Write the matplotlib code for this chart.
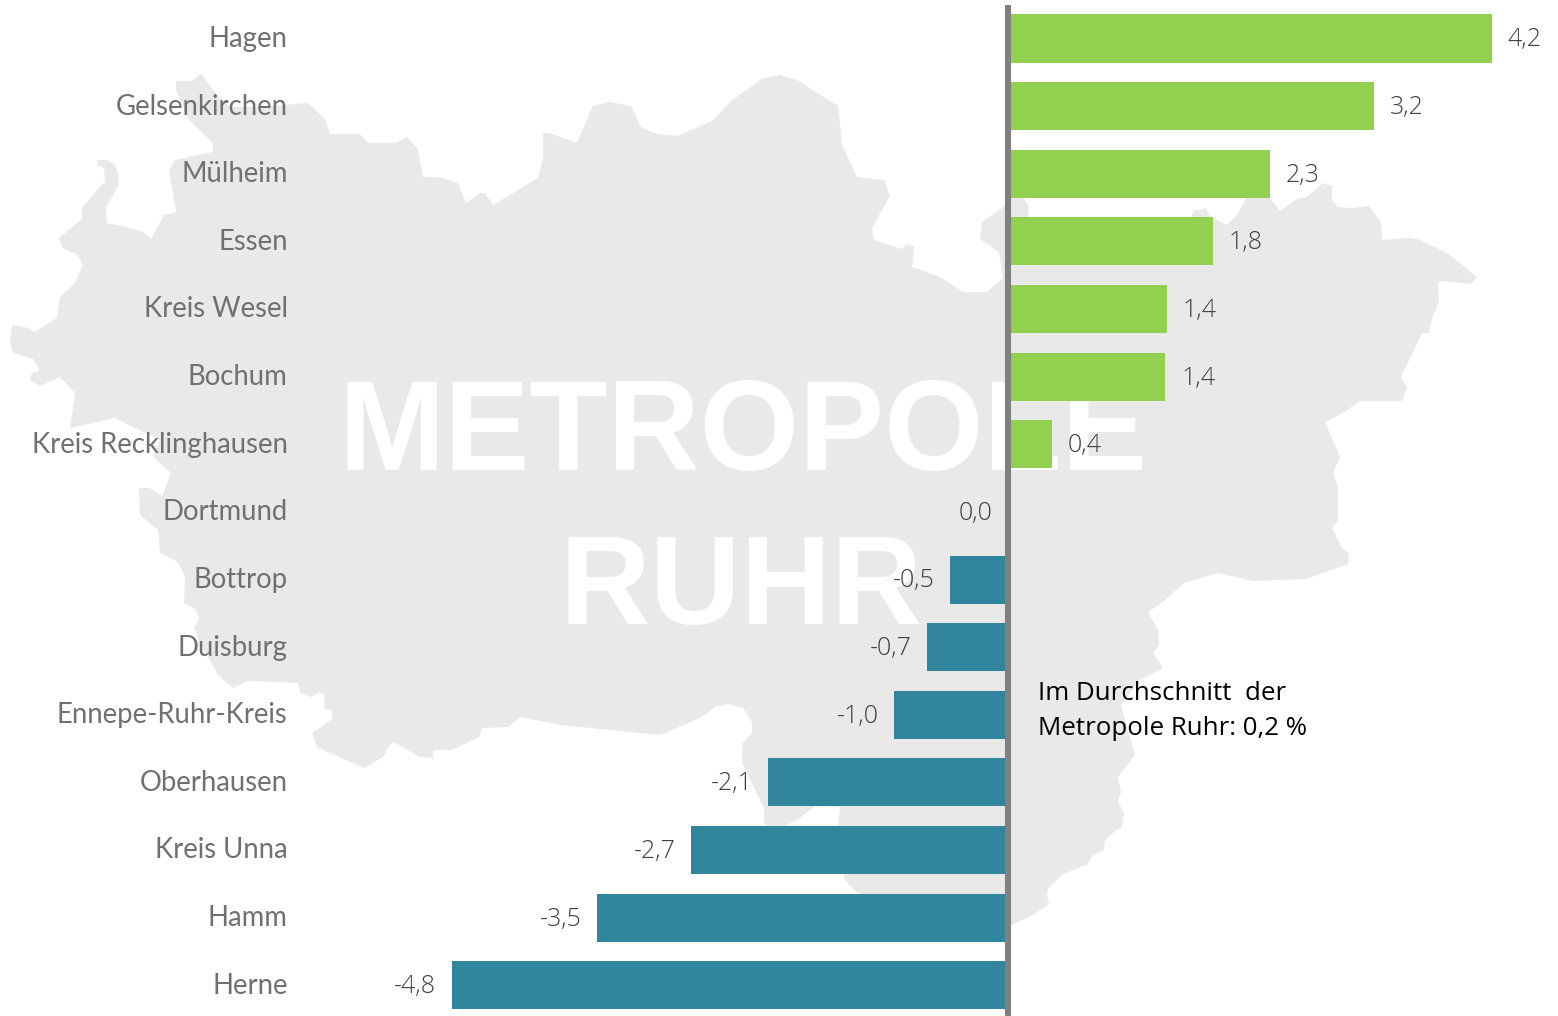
import matplotlib
matplotlib.use("Agg")
import matplotlib.pyplot as plt
from matplotlib.patches import Polygon
from matplotlib.transforms import ScaledTranslation

categories = ["Hagen", "Gelsenkirchen", "Mülheim", "Essen", "Kreis Wesel", "Bochum",
              "Kreis Recklinghausen", "Dortmund", "Bottrop", "Duisburg", "Ennepe-Ruhr-Kreis",
              "Oberhausen", "Kreis Unna", "Hamm", "Herne"]
values = [4.2, 3.18, 2.27, 1.78, 1.38, 1.365, 0.38, 0.0, -0.5, -0.7, -0.99, -2.08, -2.75, -3.57, -4.83]
value_labels = ["4,2", "3,2", "2,3", "1,8", "1,4", "1,4", "0,4", "0,0", "-0,5", "-0,7", "-1,0",
                "-2,1", "-2,7", "-3,5", "-4,8"]

# Decorative backdrop outline (pixel coordinates of the figure)
map_outline = [(10,343),(12,325),(28,328),(34,332),(57,318),(60,297),(75,283),(83,265),(78,255),(63,248),(59,238),
 (82,219),(82,208),(97,190),(105,182),(104,168),(97,165),(97,160),(107,160),(115,165),(119,177),(118,186),(106,208),
 (107,223),(127,227),(145,233),(151,239),(164,215),(176,212),(169,170),(175,160),(213,152),(213,143),(189,120),
 (176,90),(176,81),(192,81),(201,74),(217,95),(230,107),(257,107),(308,103),(325,119),(330,134),(360,134),(368,143),
 (396,143),(407,137),(418,149),(423,177),(438,177),(458,183),(466,203),(480,193),(485,193),(493,205),(538,178),
 (543,157),(543,133),(549,133),(577,143),(593,106),(609,102),(631,106),(641,127),(657,134),(677,136),(712,121),
 (731,101),(763,78),(780,75),(797,80),(838,106),(842,145),(857,177),(884,180),(890,196),(872,228),(874,240),(902,249),
 (907,244),(914,247),(912,267),(940,277),(963,292),(987,292),(1003,278),(999,252),(980,239),(982,222),(1005,206),
 (1012,197),(1023,197),(1029,206),(1028,217),(1192,217),(1193,211),(1206,208),(1210,217),(1227,225),(1237,215),
 (1247,197),(1269,197),(1280,211),(1297,199),(1307,197),(1323,183),(1332,186),(1332,200),(1338,207),(1352,208),
 (1369,206),(1381,222),(1382,240),(1407,238),(1418,239),(1447,253),(1465,267),(1477,278),(1470,284),(1443,281),
 (1438,283),(1439,302),(1432,318),(1429,333),(1422,333),(1401,377),(1407,388),(1402,401),(1360,401),(1343,413),
 (1325,422),(1340,457),(1333,473),(1338,487),(1338,520),(1332,528),(1342,548),(1349,553),(1348,564),(1306,579),
 (1253,581),(1218,573),(1184,583),(1163,602),(1148,612),(1158,630),(1159,645),(1153,653),(1163,668),(1140,680),
 (1121,705),(1135,755),(1118,777),(1121,792),(1118,802),(1124,813),(1122,827),(1115,831),(1105,840),(1104,850),
 (1092,856),(1088,864),(1062,875),(1048,888),(1047,895),(1049,904),(1033,915),(1012,925),(1005,927),(950,915),
 (857,893),(844,879),(842,850),(838,826),(840,807),(815,806),(800,818),(786,826),(767,826),(764,822),(764,808),
 (742,763),(742,753),(743,743),(752,733),(752,722),(743,708),(728,704),(715,707),(700,718),(660,735),(560,725),
 (520,717),(508,727),(482,728),(479,737),(452,750),(433,750),(433,758),(420,757),(394,742),(388,747),(383,757),
 (364,768),(317,747),(312,733),(332,719),(332,710),(325,710),(324,693),(317,693),(311,697),(300,693),(298,683),
 (247,681),(233,688),(218,675),(200,643),(194,628),(199,618),(195,609),(184,603),(185,577),(178,562),(160,553),
 (158,530),(140,515),(139,488),(150,488),(162,496),(171,473),(153,457),(160,440),(115,418),(70,428),(75,393),
 (60,377),(40,386),(30,380),(32,373),(40,371),(33,359),(13,353)]

W, H = 1558, 1016
ZERO_PX, PX_PER_UNIT = 1008, 115.2
ROW0_PX, ROW_PX = 38.5, 67.63
LEFT_PX = 298

fig = plt.figure(figsize=(W / 100, H / 100), dpi=100, facecolor="white")

bg = fig.add_axes([0, 0, 1, 1], zorder=0)
bg.set_xlim(0, W)
bg.set_ylim(H, 0)
bg.axis("off")
bg.add_patch(Polygon(map_outline, closed=True, facecolor="#E9E9E9", edgecolor="none"))
bg.text(339, 470, "METROPOLE", family="Liberation Sans", weight="bold", fontsize=92,
        color="white", ha="left", va="baseline")
bg.text(560, 624, "RUHR", family="Liberation Sans", weight="bold", fontsize=90.5,
        color="white", ha="left", va="baseline")

ax = fig.add_axes([LEFT_PX / W, 0, (W - LEFT_PX) / W, 1], zorder=1)
ax.patch.set_alpha(0)
ax.set_xlim((LEFT_PX - ZERO_PX) / PX_PER_UNIT, (W - ZERO_PX) / PX_PER_UNIT)
ax.set_ylim((H - ROW0_PX) / ROW_PX, -ROW0_PX / ROW_PX)
for s in ax.spines.values():
    s.set_visible(False)
ax.set_xticks([])

positions = list(range(len(categories)))
colors = ["#92D050" if v > 0 else "#31859C" for v in values]
ax.barh(positions, values, height=0.71, color=colors, zorder=2)
ax.axvline(0, ymin=0, ymax=1 - 5 / H, color="#808080", lw=4.4, zorder=3, solid_capstyle="butt")

ax.set_yticks(positions)
ax.set_yticklabels(categories, family="Lato", weight="normal", fontsize=19.8, color="#707070")
ax.tick_params(axis="y", length=0, pad=7.5)
up = ScaledTranslation(0, 1.5 / 72, fig.dpi_scale_trans)
for lab in ax.get_yticklabels():
    lab.set_transform(lab.get_transform() + up)

for p, v, lab in zip(positions, values, value_labels):
    off = 11.5 if v > 0 else -11
    ax.annotate(lab, (v, p), xytext=(off, -1), textcoords="offset points",
                ha="left" if v > 0 else "right", va="center",
                family="Open Sans", weight="light", fontsize=18, color="#404040", zorder=4)

fig.text(1038 / W, 1 - 700 / H, "Im Durchschnitt  der", family="Open Sans", fontsize=18.6,
         color="black", ha="left", va="baseline", zorder=5)
fig.text(1038 / W, 1 - 735 / H, "Metropole Ruhr: 0,2 %", family="Open Sans", fontsize=18.6,
         color="black", ha="left", va="baseline", zorder=5)

fig.savefig("out.png", dpi=100, facecolor="white")
